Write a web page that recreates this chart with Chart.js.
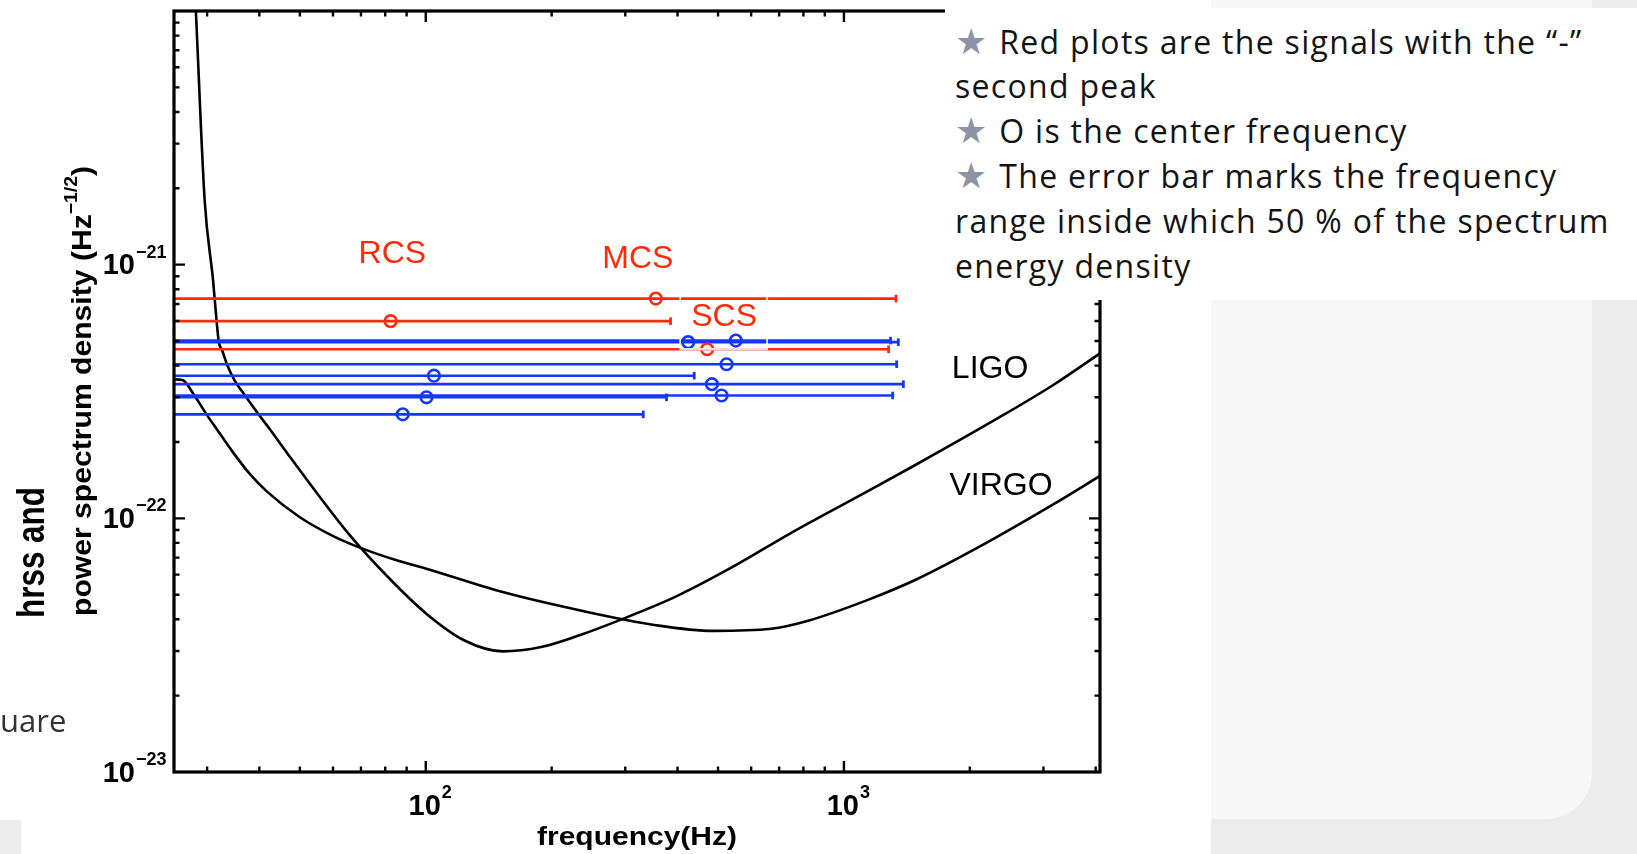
<!DOCTYPE html>
<html>
<head>
<meta charset="utf-8">
<script src="https://cdn.jsdelivr.net/npm/chart.js@4.4.1/dist/chart.umd.min.js"></script>
<style>
  html, body { margin:0; padding:0; width:1637px; height:854px; overflow:hidden; background:#ececec; }
  #slide { position:absolute; left:0; top:0; width:1592px; height:819px; background:#f7f7f7; border-bottom-right-radius:46px; }
  #paper { position:absolute; left:21px; top:0; width:1190px; height:854px; background:#ffffff; }
  #leftwhite { position:absolute; left:0; top:0; width:21px; height:820px; background:#ffffff; }
  #cv { position:absolute; left:0; top:0; z-index:2; }
  #note { position:absolute; left:945px; top:8px; width:692px; height:292px; background:#ffffff; z-index:3;
          font-family:"Open Sans", sans-serif; font-size:32px; letter-spacing:1.3px; color:#141414; }
  #note div { position:absolute; left:10px; white-space:nowrap; line-height:45px; }
  .star { color:#8e94a6; font-family:"DejaVu Sans", sans-serif; font-size:36px; letter-spacing:0; margin-right:12px; }
  #uare { position:absolute; left:0; top:699px; z-index:3; font-family:"Open Sans", sans-serif; font-size:31px; color:#333; }
</style>
</head>
<body>
<div id="slide"></div>
<div id="leftwhite"></div>
<div id="paper"></div>
<canvas id="cv" width="1637" height="854"></canvas>
<div id="note">
  <div style="top:11px"><span class="star">★</span>Red plots are the signals with the “-”</div>
  <div style="top:55px">second peak</div>
  <div style="top:100px"><span class="star">★</span>O is the center frequency</div>
  <div style="top:145px"><span class="star">★</span>The error bar marks the frequency</div>
  <div style="top:190px">range inside which 50 % of the spectrum</div>
  <div style="top:235px">energy density</div>
</div>
<div id="uare">uare</div>
<script>
// ---------------- data ----------------
// LIGO sensitivity curve (frequency Hz, strain Hz^-1/2)
const ligoF = [27.9, 28.2, 29.6, 31.0, 31.6, 32.0, 32.6, 33.4, 34.9, 37.2, 39.7, 42.6, 47.8, 65.8, 81.2, 100.3, 123.8, 152.8, 188.8, 233.1, 290.9, 394.9, 541.7, 742.9, 1041, 1489, 2401, 3180, 4096];
const ligoH = [1.43e-20, 9.96e-21, 1.79e-21, 8.67e-22, 6.03e-22, 4.95e-22, 4.59e-22, 4.08e-22, 3.50e-22, 3.01e-22, 2.59e-22, 2.22e-22, 1.71e-22, 8.58e-23, 5.87e-23, 4.21e-23, 3.30e-23, 2.99e-23, 3.11e-23, 3.46e-23, 3.97e-23, 4.90e-23, 6.43e-23, 8.71e-23, 1.18e-22, 1.63e-22, 2.55e-22, 3.37e-22, 4.47e-22];
// VIRGO sensitivity curve
const virgoF = [25, 26.2, 27.8, 29.9, 31.8, 34.6, 37.9, 41.6, 50.0, 59.9, 68.8, 86.7, 100.3, 152.8, 233.1, 355.4, 487.5, 669, 825.4, 1133, 1489, 2088, 3180, 4096];
const virgoH = [3.53e-22, 3.51e-22, 3.10e-22, 2.57e-22, 2.22e-22, 1.82e-22, 1.50e-22, 1.28e-22, 1.01e-22, 8.53e-23, 7.72e-23, 6.77e-23, 6.33e-23, 5.12e-23, 4.34e-23, 3.79e-23, 3.60e-23, 3.67e-23, 3.96e-23, 4.75e-23, 5.74e-23, 7.66e-23, 1.14e-22, 1.47e-22];
// red signals ("-" second peak): centre frequency, 50% band, hrss
const redCenterF = [354.9, 82.4, 470.9];
const redLowF    = [20, 20, 20];
const redHighF   = [1332, 384.9, 1279];
const redH       = [7.35e-22, 5.99e-22, 4.64e-22];
// blue signals
const blueCenterF = [424.2, 551.5, 524, 104.6, 483.3, 100.4, 509.8, 88.1];
const blueLowF    = [20, 20, 20, 20, 20, 20, 20, 20];
const blueHighF   = [1349, 1293, 1337, 438.5, 1387, 376.5, 1308, 331.2];
const blueH       = [4.95e-22, 5.02e-22, 4.05e-22, 3.65e-22, 3.38e-22, 3.00e-22, 3.05e-22, 2.57e-22];
// text labels placed in data coordinates
const labelText = ['RCS', 'MCS', 'SCS', 'LIGO', 'VIRGO'];
const labelF    = [83.2, 321.6, 517, 2236, 2375];
const labelH    = [1.10e-21, 1.05e-21, 6.22e-22, 3.88e-22, 1.34e-22];
const labelRed  = [true, true, true, false, false];
// axes
const xRange = [25, 4096];
const yRange = [1e-23, 1e-20];
const xTickExp = [2, 3];
const yTickExp = [-23, -22, -21];
const xTitle = 'frequency(Hz)';
const yTitle1 = 'hrss and';
const yTitle2 = 'power spectrum density (Hz';
const yTitleSup = '\u22121/2';

const RED = '#ff2a0a';
const BLUE = '#1437ff';

// ---------------- datasets ----------------
const pts = (fs, hs) => fs.map((f, i) => ({x: f, y: hs[i]}));
const datasets = [];
datasets.push({label:'LIGO', data: pts(ligoF, ligoH), borderColor:'#000', borderWidth:2.6, pointRadius:0, cubicInterpolationMode:'monotone', order:10, clip:0});
datasets.push({label:'VIRGO', data: pts(virgoF, virgoH), borderColor:'#000', borderWidth:2.6, pointRadius:0, cubicInterpolationMode:'monotone', order:10, clip:0});
function addBars(cF, lF, hF, hs, color) {
  for (let i = 0; i < cF.length; i++) {
    datasets.push({data:[{x:lF[i], y:hs[i]}, {x:hF[i], y:hs[i]}], borderColor:color, borderWidth:2.6, pointRadius:0, order:5, clip:0});
  }
  datasets.push({data: pts(hF, hs), showLine:false, pointStyle:'line', pointRotation:90, pointRadius:3.8,
                 pointBorderWidth:2.8, pointBorderColor:color, borderColor:color, order:3, clip:0});
  datasets.push({data: pts(cF, hs), showLine:false, pointStyle:'circle', pointRadius:5.8,
                 pointBorderWidth:2.6, pointBorderColor:color, pointBackgroundColor:'rgba(0,0,0,0)', borderColor:color, order:1, clip:0});
}
addBars(redCenterF, redLowF, redHighF, redH, RED);
addBars(blueCenterF, blueLowF, blueHighF, blueH, BLUE);

// ---------------- frame / ticks / labels plugin ----------------
const F = '"Liberation Sans", Arial, sans-serif';
function powLabel(ctx, exp, xr, yc, big, small, dy) {
  ctx.textBaseline = 'middle';
  ctx.font = 'bold ' + big + 'px ' + F; ctx.textAlign = 'right'; ctx.fillText('10', xr, yc);
  ctx.font = 'bold ' + small + 'px ' + F; ctx.textAlign = 'left'; ctx.fillText(exp, xr + 1, yc - dy);
}
const framePlugin = {
  id: 'frame',
  afterDatasetsDraw(chart) {
    // white outline of the text box that sits around "SCS"
    const {ctx, scales: {x, y}} = chart;
    const i = labelText.indexOf('SCS');
    const cx = x.getPixelForValue(labelF[i]), cy = y.getPixelForValue(labelH[i]);
    ctx.save();
    ctx.strokeStyle = '#ffffff'; ctx.lineWidth = 1.6;
    ctx.strokeRect(cx - 44, cy - 21, 87, 53);
    ctx.strokeStyle = '#dddddd'; ctx.lineWidth = 1;
    ctx.beginPath(); ctx.moveTo(cx - 44, cy + 33); ctx.lineTo(cx + 43, cy + 33); ctx.stroke();
    ctx.restore();
  },
  afterDraw(chart) {
    const {ctx, chartArea: a, scales: {x, y}} = chart;
    ctx.save();
    ctx.fillStyle = '#000'; ctx.strokeStyle = '#000';
    // ticks (inward, on all four sides)
    ctx.lineWidth = 2.4;
    ctx.beginPath();
    for (let e = Math.floor(Math.log10(xRange[0])); e <= Math.ceil(Math.log10(xRange[1])); e++) {
      for (let m = 1; m <= 9; m++) {
        const v = m * Math.pow(10, e);
        if (v <= xRange[0] || v >= xRange[1]) continue;
        const px = x.getPixelForValue(v), len = m === 1 ? 11 : 5.5;
        ctx.moveTo(px, a.bottom); ctx.lineTo(px, a.bottom - len);
        ctx.moveTo(px, a.top); ctx.lineTo(px, a.top + len);
      }
    }
    for (let e = Math.floor(Math.log10(yRange[0])); e <= Math.ceil(Math.log10(yRange[1])); e++) {
      for (let m = 1; m <= 9; m++) {
        const v = m * Math.pow(10, e);
        if (v <= yRange[0] * 1.0001 || v >= yRange[1] * 0.9999) continue;
        const py = y.getPixelForValue(v), len = m === 1 ? 11 : 5.5;
        ctx.moveTo(a.left, py); ctx.lineTo(a.left + len, py);
        ctx.moveTo(a.right, py); ctx.lineTo(a.right - len, py);
      }
    }
    ctx.stroke();
    // box
    ctx.lineWidth = 3.2;
    ctx.strokeRect(a.left, a.top, a.right - a.left, a.bottom - a.top);
    // tick labels
    yTickExp.forEach(e => powLabel(ctx, '\u2212' + Math.abs(e), a.left - 39, y.getPixelForValue(Math.pow(10, e)) + 1.5, 29, 18, 13.5));
    xTickExp.forEach(e => powLabel(ctx, String(e), x.getPixelForValue(Math.pow(10, e)) + 15, a.bottom + 35, 29, 18, 14));
    // x title
    ctx.font = 'bold 26px ' + F; ctx.textAlign = 'center'; ctx.textBaseline = 'middle';
    {
      const w = ctx.measureText(xTitle).width;
      ctx.save(); ctx.translate((a.left + a.right) / 2, 838); ctx.scale(200 / w, 1); ctx.fillText(xTitle, 0, 0); ctx.restore();
    }
    // y title line 1
    {
      ctx.font = 'bold 38px ' + F; ctx.textAlign = 'left'; ctx.textBaseline = 'alphabetic';
      const w = ctx.measureText(yTitle1).width;
      ctx.save(); ctx.translate(44, 618); ctx.rotate(-Math.PI / 2); ctx.scale(131 / w, 1); ctx.fillText(yTitle1, 0, 0); ctx.restore();
    }
    // y title line 2 with superscript
    {
      const S = 28, s = 18;
      ctx.font = 'bold ' + S + 'px ' + F; const w1 = ctx.measureText(yTitle2).width; const w3 = ctx.measureText(')').width;
      ctx.font = 'bold ' + s + 'px ' + F; const w2 = ctx.measureText(yTitleSup).width;
      const k = 450 / (w1 + w2 + w3);
      ctx.save(); ctx.translate(91, 616); ctx.rotate(-Math.PI / 2); ctx.scale(k, 1);
      ctx.textAlign = 'left'; ctx.textBaseline = 'alphabetic';
      ctx.font = 'bold ' + S + 'px ' + F; ctx.fillText(yTitle2, 0, 0);
      ctx.font = 'bold ' + s + 'px ' + F; ctx.fillText(yTitleSup, w1, -S * 0.5);
      ctx.font = 'bold ' + S + 'px ' + F; ctx.fillText(')', w1 + w2, 0);
      ctx.restore();
    }
    // curve / group labels
    ctx.font = '32px ' + F; ctx.textAlign = 'center'; ctx.textBaseline = 'middle';
    labelText.forEach((t, i) => {
      ctx.fillStyle = labelRed[i] ? RED : '#000';
      ctx.fillText(t, x.getPixelForValue(labelF[i]), y.getPixelForValue(labelH[i]));
    });
    ctx.restore();
  }
};

new Chart(document.getElementById('cv'), {
  type: 'line',
  data: { datasets },
  options: {
    responsive: false, animation: false, devicePixelRatio: 1, events: [],
    layout: { padding: { left: 174, right: 537, top: 11, bottom: 82 } },
    scales: {
      x: { type: 'logarithmic', min: xRange[0], max: xRange[1], display: false },
      y: { type: 'logarithmic', min: yRange[0], max: yRange[1], display: false }
    },
    plugins: { legend: { display: false }, tooltip: { enabled: false } }
  },
  plugins: [framePlugin]
});
</script>
</body>
</html>
